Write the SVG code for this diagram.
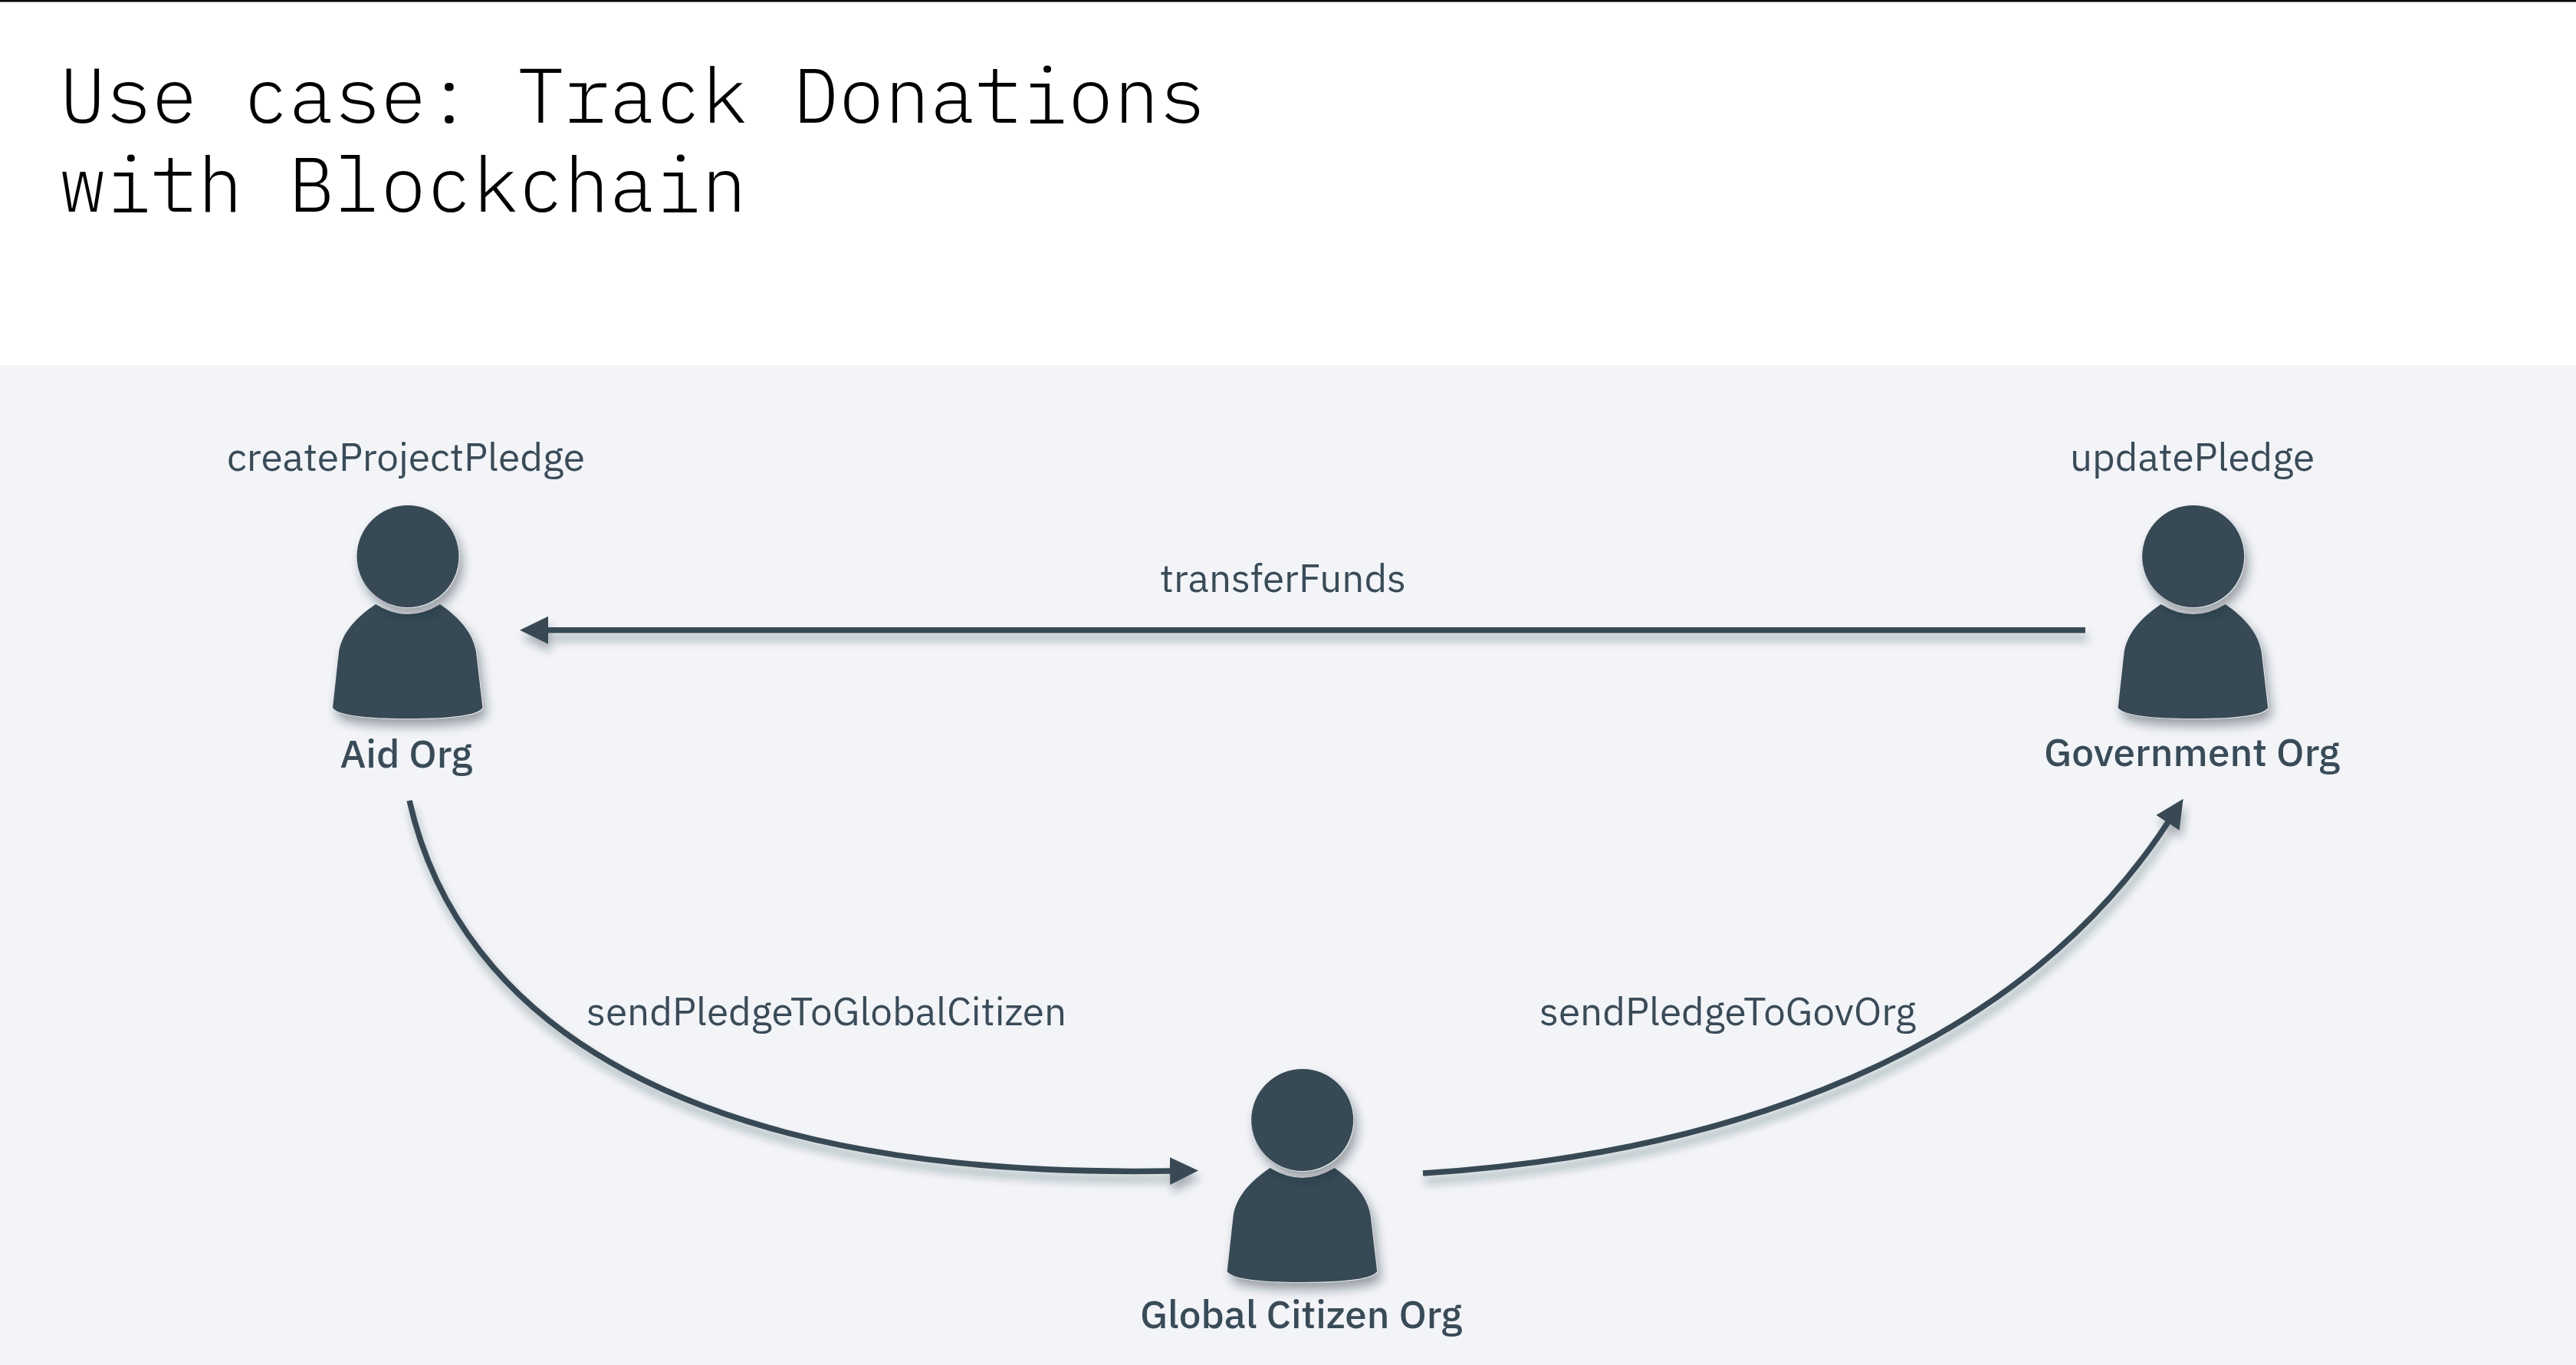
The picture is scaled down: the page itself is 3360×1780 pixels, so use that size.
<svg xmlns="http://www.w3.org/2000/svg" width="3360" height="1780" viewBox="0 0 3360 1780">
<style>
.t{font-family:"IBM Plex Mono","Liberation Mono",monospace;font-size:99.6px;fill:#000;font-weight:300}
.l{font-family:"IBM Plex Sans","Noto Sans",sans-serif;font-size:51px;fill:#3a4b58;font-weight:400}
.b{font-family:"IBM Plex Sans","Noto Sans",sans-serif;font-size:50px;fill:#3a4b58;font-weight:500}
.c{fill:none;stroke:#374955;stroke-width:7.5}
.f{fill:#374955}
</style>
<defs>
<filter id="sh" x="-20%" y="-20%" width="150%" height="150%"><feDropShadow dx="4" dy="9" stdDeviation="7" flood-color="#1c2530" flood-opacity=".42"/></filter>
<filter id="shc" filterUnits="userSpaceOnUse" x="0" y="476" width="3360" height="1304"><feDropShadow dx="3" dy="10" stdDeviation="6" flood-color="#1c2530" flood-opacity=".34"/></filter>
<marker id="ah" markerUnits="userSpaceOnUse" markerWidth="40" markerHeight="40" refX="1" refY="20" orient="auto"><path class="f" d="M0 2L37 20L0 38Z"/></marker>
<path id="body" d="M434 923L442 850C446 826 463 806 490 788Q532 814 574 788C600 806 617 826 621 850L629.5 923Q620 937 532 937Q444 937 434 923Z"/>
<g id="person">
<use href="#body" fill="#e8ebee" transform="translate(.8 .8)" filter="url(#sh)"/>
<use href="#body" class="f"/>
<circle cx="532.8" cy="726.3" r="66.5" fill="#e8ebee" filter="url(#sh)"/>
<circle cx="532" cy="725.5" r="66.5" class="f"/>
</g>
</defs>
<rect width="3360" height="1780" fill="#fff"/>
<rect width="3360" height="2.5" fill="#000"/>
<rect y="476" width="3360" height="1304" fill="#f2f4f8"/>
<g id="title">
<text class="t"><tspan x="78" y="160">Use case: Track Donations</tspan><tspan x="78" y="276">with Blockchain</tspan></text>
</g>
<g id="connectors" filter="url(#shc)">
<path class="c" d="M2720 821.7H714" marker-end="url(#ah)"/>
<path class="c" d="M534 1044C598 1328 890 1538 1527 1527" marker-end="url(#ah)"/>
<path class="c" d="M1856 1530C2250 1505 2630 1375 2828 1072" marker-end="url(#ah)"/>
</g>
<g id="edge-labels">
<text class="l" x="1513" y="772" textLength="321" lengthAdjust="spacingAndGlyphs">transferFunds</text>
<text class="l" x="765" y="1337" textLength="626" lengthAdjust="spacingAndGlyphs">sendPledgeToGlobalCitizen</text>
<text class="l" x="2008" y="1337" textLength="491" lengthAdjust="spacingAndGlyphs">sendPledgeToGovOrg</text>
</g>
<g id="aid-org">
<use href="#person"/>
<text class="l" x="296" y="614" textLength="467" lengthAdjust="spacingAndGlyphs">createProjectPledge</text>
<text class="b" x="443.5" y="1001" textLength="172.5" lengthAdjust="spacingAndGlyphs">Aid Org</text>
</g>
<g id="government-org">
<use href="#person" transform="translate(2328.7 0)"/>
<text class="l" x="2700" y="614" textLength="319" lengthAdjust="spacingAndGlyphs">updatePledge</text>
<text class="b" x="2666" y="999" textLength="386" lengthAdjust="spacingAndGlyphs">Government Org</text>
</g>
<g id="global-citizen-org">
<use href="#person" transform="translate(1166.7 735)"/>
<text class="b" x="1487" y="1732" textLength="420" lengthAdjust="spacingAndGlyphs">Global Citizen Org</text>
</g>
</svg>
